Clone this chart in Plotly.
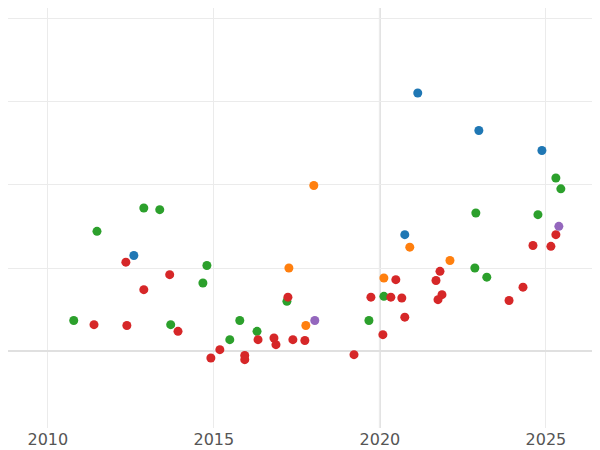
import plotly.graph_objects as go

blue_x = [2021.14, 2022.98, 2024.88, 2020.75, 2012.59]
blue_y = [3.10, 2.65, 2.41, 1.40, 1.15]
orange_x = [2018.01, 2020.90, 2022.11, 2020.12, 2017.26, 2017.77]
orange_y = [1.99, 1.25, 1.09, 0.88, 1.00, 0.31]
green_x = [2025.30, 2025.45, 2024.76, 2022.89, 2011.48, 2012.89, 2013.37, 2014.79, 2014.67,
           2022.86, 2023.22, 2020.12, 2017.20, 2019.67, 2010.78, 2013.70, 2015.78, 2016.30, 2015.48]
green_y = [2.08, 1.95, 1.64, 1.66, 1.44, 1.72, 1.70, 1.03, 0.82,
           1.00, 0.89, 0.66, 0.60, 0.37, 0.37, 0.32, 0.37, 0.24, 0.14]
purple_x = [2018.04, 2025.39]
purple_y = [0.37, 1.50]
red_x = [2012.35, 2012.89, 2013.67, 2011.39, 2012.38, 2013.92, 2015.18, 2014.91, 2015.93, 2015.93,
         2016.33, 2016.81, 2016.87, 2017.38, 2017.74, 2017.23, 2019.22, 2019.73, 2020.09, 2020.33,
         2020.48, 2020.66, 2020.75, 2021.69, 2021.81, 2021.87, 2021.75, 2023.89, 2024.31, 2024.61,
         2025.15, 2025.30]
red_y = [1.07, 0.74, 0.92, 0.32, 0.31, 0.24, 0.02, -0.08, -0.05, -0.10,
         0.14, 0.16, 0.08, 0.14, 0.13, 0.65, -0.04, 0.65, 0.20, 0.65,
         0.86, 0.64, 0.41, 0.85, 0.96, 0.68, 0.62, 0.61, 0.77, 1.27,
         1.26, 1.40]

fig = go.Figure()
for xs, ys, c in [(blue_x, blue_y, "#1f77b4"), (orange_x, orange_y, "#ff7f0e"),
                  (green_x, green_y, "#2ca02c"), (red_x, red_y, "#d62728"),
                  (purple_x, purple_y, "#9467bd")]:
    fig.add_trace(go.Scatter(x=xs, y=ys, mode="markers",
                             marker=dict(color=c, size=9), showlegend=False, cliponaxis=False))

fig.update_layout(
    width=600, height=450,
    margin=dict(l=0, r=0, t=0, b=30, autoexpand=False),
    plot_bgcolor="white", paper_bgcolor="white",
    font=dict(family="DejaVu Sans", size=16, color="#555"),
    xaxis=dict(range=[2008.8, 2026.87], tickvals=[2010, 2015, 2020, 2025],
               showgrid=True, gridcolor="#ebebeb", zeroline=False, ticks=""),
    yaxis=dict(range=[-0.92, 4.12], tickvals=[0, 1, 2, 3, 4], showticklabels=False,
               showgrid=True, gridcolor="#ebebeb", zeroline=True, zerolinecolor="#e0e0e0",
               zerolinewidth=2),
    shapes=[dict(type="line", x0=2020, x1=2020, y0=0, y1=1, yref="paper",
                 line=dict(color="#e0e0e0", width=2), layer="below")],
)
fig.write_html("out.html")
